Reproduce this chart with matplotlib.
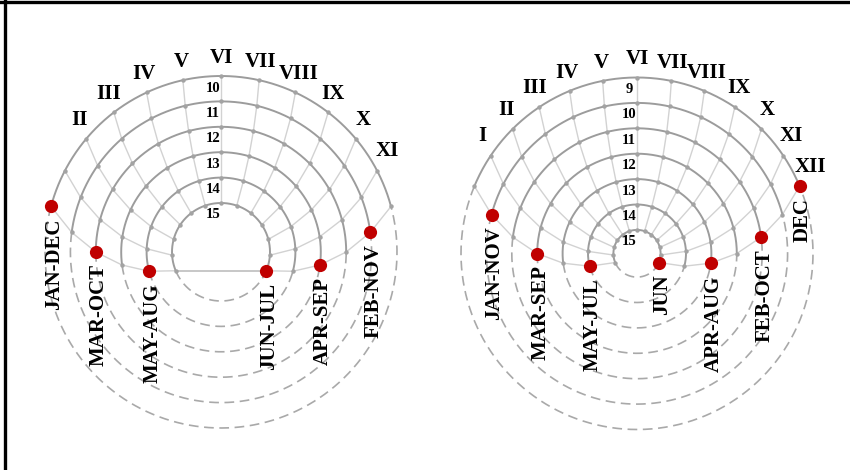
import numpy as np
import matplotlib.pyplot as plt
from matplotlib.lines import Line2D

plt.rcParams['font.family'] = ['Liberation Serif', 'DejaVu Serif']
plt.rcParams['lines.scale_dashes'] = False

# day length in hours for each ring, outermost ring first
left_hours = [10, 11, 12, 13, 14, 15]
left_months = ["JAN-DEC", "FEB-NOV", "MAR-OCT", "APR-SEP", "MAY-AUG", "JUN-JUL"]
left_marked = [0, 12, 0, 12, 0, 12]          # 0 = sunrise end, 12 = sunset end
left_numerals = ["II", "III", "IV", "V", "VI", "VII", "VIII", "IX", "X", "XI"]
left_numeral_hours = [2, 3, 4, 5, 6, 7, 8, 9, 10, 11]

right_hours = [9, 10, 11, 12, 13, 14, 15]
right_months = ["DEC", "JAN-NOV", "FEB-OCT", "MAR-SEP", "APR-AUG", "MAY-JUL", "JUN"]
right_marked = [12, 0, 12, 0, 12, 0, 12]
right_numerals = ["I", "II", "III", "IV", "V", "VI", "VII", "VIII", "IX", "X", "XI", "XII"]
right_numeral_hours = [1, 2, 3, 4, 5, 6, 7, 8, 9, 10, 11, 12]

R_OUT = 176.0
STEP = 25.4

RING = "#9c9c9c"
HOURLINE = "#d2d2d2"
DASH = "#a9a9a9"
RED = "#c00000"


def hour_angle(hours, k):
    # temporal hours: the daylight arc is split into 12 equal parts
    return 90 + hours * 7.5 - k * hours * 15 / 12


def point(cx, cy, r, deg):
    a = np.radians(deg)
    return cx + r * np.cos(a), cy - r * np.sin(a)


def draw_dial(ax, cx, cy, hours, months, marked, numerals, numeral_hours, chord=False):
    radii = [R_OUT - i * STEP for i in range(len(hours))]

    # hour lines through the rings
    for k in range(13):
        pts = [point(cx, cy, r, hour_angle(h, k)) for r, h in zip(radii, hours)]
        xs, ys = zip(*pts)
        ax.plot(xs, ys, color=HOURLINE, lw=1.0, zorder=1)

    if chord:
        x0, y0 = point(cx, cy, radii[-1], hour_angle(hours[-1], 0))
        x1, y1 = point(cx, cy, radii[-1], hour_angle(hours[-1], 12))
        ax.plot([x0, x1], [y0, y1], color="#b8b8b8", lw=1.1, zorder=1)

    for r, h in zip(radii, hours):
        a_set, a_rise = hour_angle(h, 12), hour_angle(h, 0)
        th = np.linspace(a_set, a_rise, 300)
        xs, ys = point(cx, cy, r, th)
        ax.plot(xs, ys, color=RING, lw=1.4, zorder=2)
        th = np.linspace(a_rise, a_set + 360, 400)
        xs, ys = point(cx, cy, r, th)
        ax.plot(xs, ys, color=DASH, lw=1.2, dashes=(7, 4), zorder=2)

        ks = np.arange(13)
        xs, ys = point(cx, cy, r, hour_angle(h, ks))
        ax.plot(xs, ys, 'o', color="#a3a3a3", ms=3.2, mec='none', zorder=3)

        ax.text(cx - 8, cy - r + 12, str(h), ha='center', va='center',
                fontsize=10.5, fontweight='bold', zorder=5)

    # month markers at the end of each daylight arc
    for r, h, m, k in zip(radii, hours, months, marked):
        x, y = point(cx, cy, r, hour_angle(h, k))
        ax.plot(x, y, 'o', color=RED, ms=9.5, mec='none', zorder=4)
        ax.text(x + 3, y + 12, m, rotation=90, ha='center', va='top',
                fontsize=15, fontweight='bold', zorder=5)

    # hour numerals around the outer ring
    h0 = hours[0]
    for lab, k in zip(numerals, numeral_hours):
        a = 90 + 0.94 * (hour_angle(h0, k) - 90)
        x, y = point(cx, cy, R_OUT + 18, a)
        ax.text(x, y, lab, ha='center', va='center', fontsize=15,
                fontweight='bold', zorder=5)


fig = plt.figure(figsize=(8.5, 4.7), dpi=100)
ax = fig.add_axes([0, 0, 1, 1])
ax.set_xlim(0, 850)
ax.set_ylim(470, 0)
ax.axis('off')

draw_dial(ax, 221, 252, left_hours, left_months, left_marked,
          left_numerals, left_numeral_hours, chord=True)
draw_dial(ax, 637, 253.5, right_hours, right_months, right_marked,
          right_numerals, right_numeral_hours)

# frame edges along the top and left
fig.add_artist(Line2D([0, 1], [0.995, 0.995], color='black', lw=2.4))
fig.add_artist(Line2D([0.0055, 0.0055], [0, 1], color='black', lw=2.4))

fig.savefig("out.png", dpi=100)
